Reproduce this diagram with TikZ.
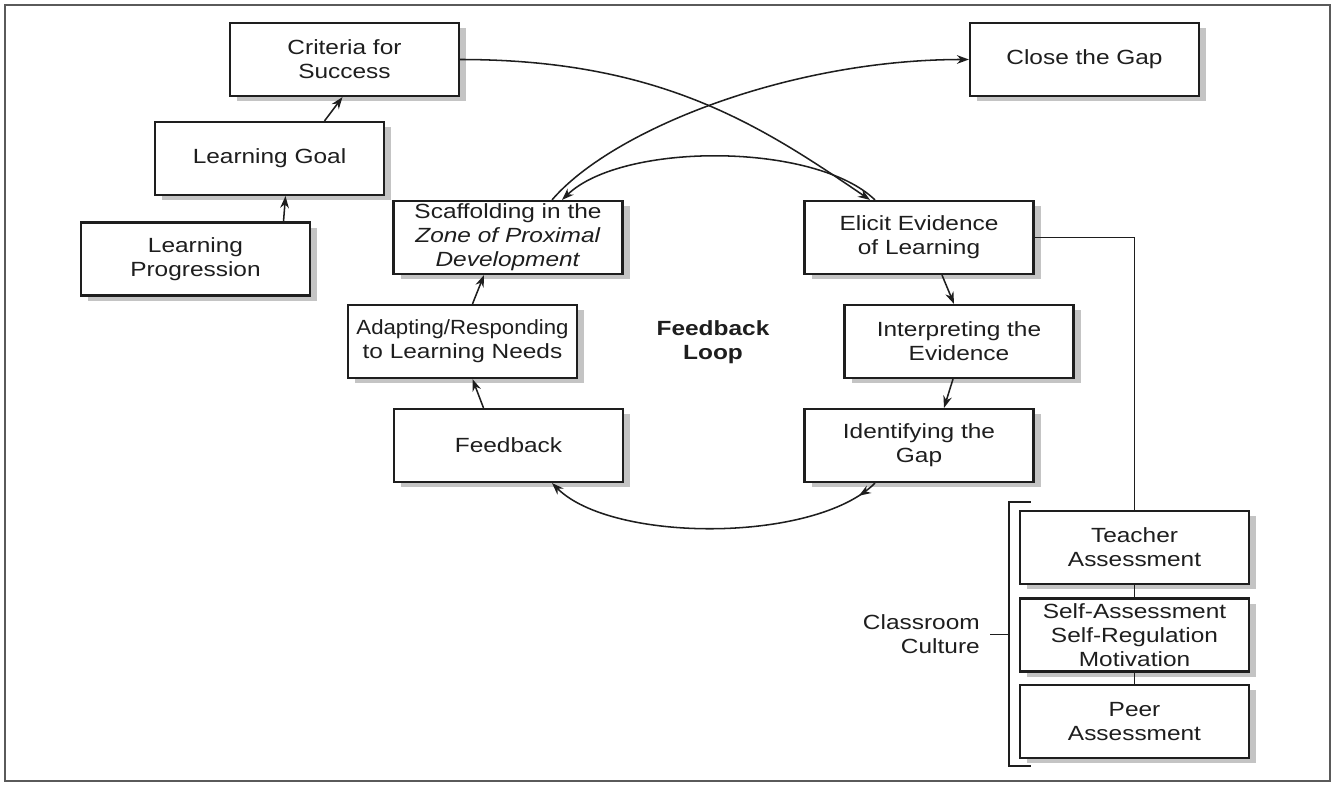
\documentclass[tikz,border=0pt]{standalone}
\usepackage{fontspec}
\setmainfont{Liberation Sans}[FakeStretch=1.19]
\newfontfamily\narrowsans{Liberation Sans}[FakeStretch=1.08]
\usetikzlibrary{arrows.meta,shadows,calc,decorations.markings}

\definecolor{ink}{HTML}{1E1E1E}
\definecolor{shade}{HTML}{C4C4C4}
\definecolor{rim}{HTML}{5A5A5A}

\tikzset{flowtip/.tip={Stealth[length=9pt,width=6.5pt]}}

\begin{document}
\begin{tikzpicture}[x=0.75pt,y=-0.75pt,
  panel/.style={draw=ink, line width=1.6pt, fill=white,
    minimum width=171.75pt, minimum height=54.75pt, inner sep=1pt,
    align=center, text=ink, font=\fontsize{15.4}{18}\selectfont,
    drop shadow={shadow xshift=5.25pt, shadow yshift=-3.75pt, fill=shade, opacity=1}},
  freetext/.style={text=ink, font=\fontsize{15.4}{18}\selectfont, align=center},
  link/.style={draw=ink, line width=1.15pt},
  flow/.style={link, -flowtip}
]
\useasboundingbox (0,0) rectangle (1336,785);
\draw[draw=rim, line width=1.5pt] (5,5) rectangle (1330,781);

% left column: goals and criteria
\node[panel] (crit)  at (344.5,59.5) {Criteria for\\Success};
\node[panel] (goal)  at (269.5,158.5) {Learning Goal};
\node[panel] (prog)  at (195.5,259) {Learning\\Progression};

% feedback loop
\node[panel] (scaf)  at (508,237.5) {Scaffolding in the\\\textit{Zone of Proximal}\\\textit{Development}};
\node[panel] (adapt) at (462.5,341.5) {{\narrowsans Adapting/Responding}\\to Learning Needs};
\node[panel] (feed)  at (508.5,445.5) {Feedback};
\node[panel] (close) at (1084.5,59.5) {Close the Gap};
\node[panel] (elicit) at (919,237.5) {Elicit Evidence\\of Learning};
\node[panel] (interp) at (959,341.5) {Interpreting the\\Evidence};
\node[panel] (ident)  at (919,445.5) {Identifying the\\Gap};
\node[freetext, font=\bfseries\fontsize{15.4}{18}\selectfont] (loop) at (713,342) {Feedback\\Loop};

% assessment stack
\node[panel] (teacher) at (1134.5,547.5) {Teacher\\Assessment};
\node[panel] (self)    at (1134.5,635) {Self-Assessment\\Self-Regulation\\Motivation};
\node[panel] (peer)    at (1134.5,721.5) {Peer\\Assessment};
\node[freetext, anchor=east, align=right, inner xsep=7.5pt] (culture) at (990,634.5) {Classroom\\Culture};

% short arrows
\draw[flow] ($(prog.north)+(88,0)$) -- ($(goal.south)+(16,0)$);
\draw[flow] ($(goal.north)+(55,0)$) -- ($(crit.south)+(-2,0)$);
\draw[flow] ($(feed.north)+(-25,0)$) -- ($(adapt.south)+(10,0)$);
\draw[flow] ($(adapt.north)+(10,0)$) -- ($(scaf.south)+(-24,0)$);
\draw[flow] ($(elicit.south)+(23,0)$) -- ($(interp.north)+(-5,0)$);
\draw[flow] ($(interp.south)+(-6,0)$) -- ($(ident.north)+(25,0)$);

% long curves
\draw[flow] (crit.east) .. controls +(200,0) and +(-110,-75) .. ($(elicit.north)+(-49,0)$);
\draw[flow] ($(scaf.north)+(44,0)$) .. controls +(60,-70) and +(-180,0) .. (close.west);
\draw[flow] ($(elicit.north)+(-44,0)$) .. controls +(-60,-58) and +(60,-58) .. ($(scaf.north)+(54,0)$);
\draw[flow, postaction={decorate, decoration={markings,
    mark=at position 0.06 with {\arrow{flowtip}}}}]
  ($(ident.south)+(-44,0)$) .. controls +(-60,60) and +(60,60) .. ($(feed.south)+(43.5,0)$);

% assessment links and bracket
\draw[link] (elicit.east) -| (teacher.north);
\draw[link] (teacher.south) -- (self.north);
\draw[link] (self.south) -- (peer.north);
\coordinate (bt) at ($(teacher.north west)+(12,-8)$);
\coordinate (bb) at ($(peer.south west)+(12,7)$);
\coordinate (bx) at ($(teacher.west)+(-10,0)$);
\draw[link] (bt) -- ++(-22,0) |- (bb);
\draw[link] (culture.east) -- (culture.east -| bx);
\end{tikzpicture}
\end{document}
